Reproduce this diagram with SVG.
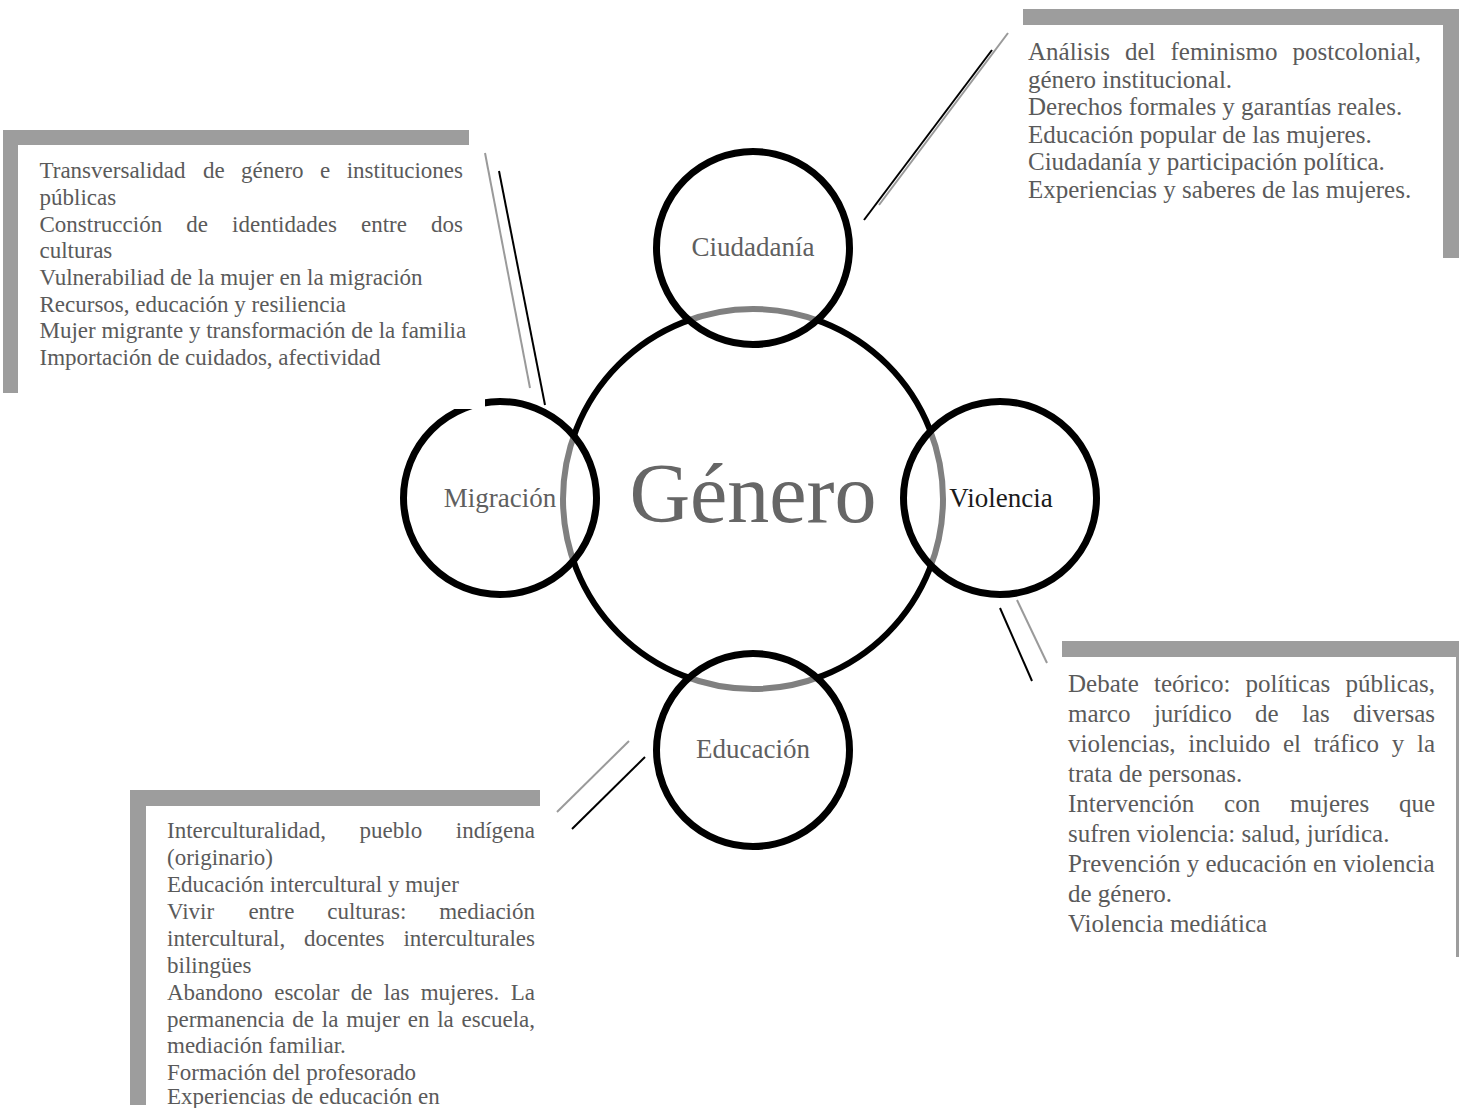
<svg xmlns="http://www.w3.org/2000/svg" width="1459" height="1108" viewBox="0 0 1459 1108">
<style>
.bar{fill:#9d9d9d}
.box{font-family:"Liberation Serif","Times New Roman",serif;fill:#5a5a5a}
.lbl{font-family:"Liberation Serif","Times New Roman",serif;font-size:27px;fill:#5f5f5f;text-anchor:middle}
.sat{fill:#fff;fill-opacity:0.5;stroke:#000;stroke-width:7}
.cg{stroke:#9a9a9a;stroke-width:2;fill:none}
.cb{stroke:#000;stroke-width:2;fill:none}
</style>
<rect width="1459" height="1108" fill="#fff"/>

<g id="genero">
<circle cx="753" cy="499" r="190" fill="none" stroke="#000" stroke-width="6"/>
<text x="753" y="522" font-family="Liberation Serif, Times New Roman, serif" font-size="84" fill="#666" text-anchor="middle">Género</text>
</g>

<g id="ciudadania">
<circle class="sat" cx="753" cy="248" r="96.5"/>
<text class="lbl" x="753" y="256">Ciudadanía</text>
</g>

<g id="migracion">
<circle class="sat" cx="500" cy="498" r="96.5"/>
<rect x="430" y="390" width="55" height="19" fill="#fff"/>
<text class="lbl" x="500" y="507">Migración</text>
</g>

<g id="violencia">
<circle class="sat" cx="1000" cy="498" r="96.5"/>
<text class="lbl" x="1001" y="507" style="fill:#1a1a1a">Violencia</text>
</g>

<g id="educacion">
<circle class="sat" cx="753" cy="750" r="96.5"/>
<text class="lbl" x="753" y="758">Educación</text>
</g>

<g id="connectors">
<line class="cg" x1="485" y1="153" x2="530" y2="388"/>
<line class="cb" x1="499" y1="171" x2="545" y2="405"/>
<line class="cg" x1="1008" y1="33" x2="879" y2="205"/>
<line class="cb" x1="992" y1="50" x2="864" y2="220"/>
<line class="cg" x1="1017" y1="600" x2="1047" y2="663"/>
<line class="cb" x1="1000" y1="608" x2="1032" y2="681"/>
<line class="cg" x1="629" y1="741" x2="557" y2="812"/>
<line class="cb" x1="645" y1="757" x2="572" y2="829"/>
</g>

<g id="box-migracion">
<rect class="bar" x="3" y="130" width="466" height="15"/>
<rect class="bar" x="3" y="130" width="15" height="263"/>
<text class="box" font-size="23">
<tspan x="39.5" y="178">Transversalidad</tspan><tspan x="202.9" y="178">de</tspan><tspan x="241" y="178">género</tspan><tspan x="320" y="178">e</tspan><tspan x="346.7" y="178">instituciones</tspan>
<tspan x="39.5" y="205">públicas</tspan>
<tspan x="39.5" y="232">Construcción</tspan><tspan x="186.3" y="232">de</tspan><tspan x="232.1" y="232">identidades</tspan><tspan x="361" y="232">entre</tspan><tspan x="431.1" y="232">dos</tspan>
<tspan x="39.5" y="258">culturas</tspan>
<tspan x="39.5" y="285">Vulnerabiliad de la mujer en la migración</tspan>
<tspan x="39.5" y="312">Recursos, educación y resiliencia</tspan>
<tspan x="39.5" y="338">Mujer migrante y transformación de la familia</tspan>
<tspan x="39.5" y="365">Importación de cuidados, afectividad</tspan>
</text>
</g>

<g id="box-ciudadania">
<rect class="bar" x="1023" y="9" width="436" height="16"/>
<rect class="bar" x="1443" y="9" width="16" height="249"/>
<text class="box" font-size="25">
<tspan x="1028" y="60">Análisis</tspan><tspan x="1125" y="60">del</tspan><tspan x="1170.5" y="60">feminismo</tspan><tspan x="1292.5" y="60">postcolonial,</tspan>
<tspan x="1028" y="87.5">género institucional.</tspan>
<tspan x="1028" y="115">Derechos formales y garantías reales.</tspan>
<tspan x="1028" y="142.5">Educación popular de las mujeres.</tspan>
<tspan x="1028" y="170">Ciudadanía y participación política.</tspan>
<tspan x="1028" y="197.5">Experiencias y saberes de las mujeres.</tspan>
</text>
</g>

<g id="box-violencia">
<rect class="bar" x="1062" y="641" width="397" height="16"/>
<rect class="bar" x="1456" y="641" width="3" height="316"/>
<text class="box" font-size="25">
<tspan x="1068" y="692">Debate</tspan><tspan x="1154" y="692">teórico:</tspan><tspan x="1245.5" y="692">políticas</tspan><tspan x="1345.4" y="692">públicas,</tspan>
<tspan x="1068" y="722">marco</tspan><tspan x="1153.9" y="722">jurídico</tspan><tspan x="1255" y="722">de</tspan><tspan x="1302" y="722">las</tspan><tspan x="1353.1" y="722">diversas</tspan>
<tspan x="1068" y="752">violencias,</tspan><tspan x="1188.3" y="752">incluido</tspan><tspan x="1283" y="752">el</tspan><tspan x="1313.8" y="752">tráfico</tspan><tspan x="1391.7" y="752">y</tspan><tspan x="1417" y="752">la</tspan>
<tspan x="1068" y="782">trata de personas.</tspan>
<tspan x="1068" y="812">Intervención</tspan><tspan x="1224.1" y="812">con</tspan><tspan x="1290" y="812">mujeres</tspan><tspan x="1398.9" y="812">que</tspan>
<tspan x="1068" y="842">sufren violencia: salud, jurídica.</tspan>
<tspan x="1068" y="872">Prevención y educación en violencia</tspan>
<tspan x="1068" y="902">de género.</tspan>
<tspan x="1068" y="932">Violencia mediática</tspan>
</text>
</g>

<g id="box-educacion">
<rect class="bar" x="130" y="790" width="410" height="16"/>
<rect class="bar" x="130" y="790" width="16" height="315"/>
<text class="box" font-size="23">
<tspan x="167" y="838">Interculturalidad,</tspan><tspan x="359.6" y="838">pueblo</tspan><tspan x="455.8" y="838">indígena</tspan>
<tspan x="167" y="865">(originario)</tspan>
<tspan x="167" y="892">Educación intercultural y mujer</tspan>
<tspan x="167" y="919">Vivir</tspan><tspan x="248.4" y="919">entre</tspan><tspan x="327.2" y="919">culturas:</tspan><tspan x="439.2" y="919">mediación</tspan>
<tspan x="167" y="946">intercultural,</tspan><tspan x="304" y="946">docentes</tspan><tspan x="403.4" y="946">interculturales</tspan>
<tspan x="167" y="973">bilingües</tspan>
<tspan x="167" y="1000">Abandono</tspan><tspan x="274.2" y="1000">escolar</tspan><tspan x="350.7" y="1000">de</tspan><tspan x="383.8" y="1000">las</tspan><tspan x="420.7" y="1000">mujeres.</tspan><tspan x="510.7" y="1000">La</tspan>
<tspan x="167" y="1027">permanencia</tspan><tspan x="292.3" y="1027">de</tspan><tspan x="321.8" y="1027">la</tspan><tspan x="346.2" y="1027">mujer</tspan><tspan x="407.7" y="1027">en</tspan><tspan x="437.2" y="1027">la</tspan><tspan x="461.6" y="1027">escuela,</tspan>
<tspan x="167" y="1053">mediación familiar.</tspan>
<tspan x="167" y="1080">Formación del profesorado</tspan>
<tspan x="167" y="1104">Experiencias de educación en</tspan>
</text>
</g>
</svg>
